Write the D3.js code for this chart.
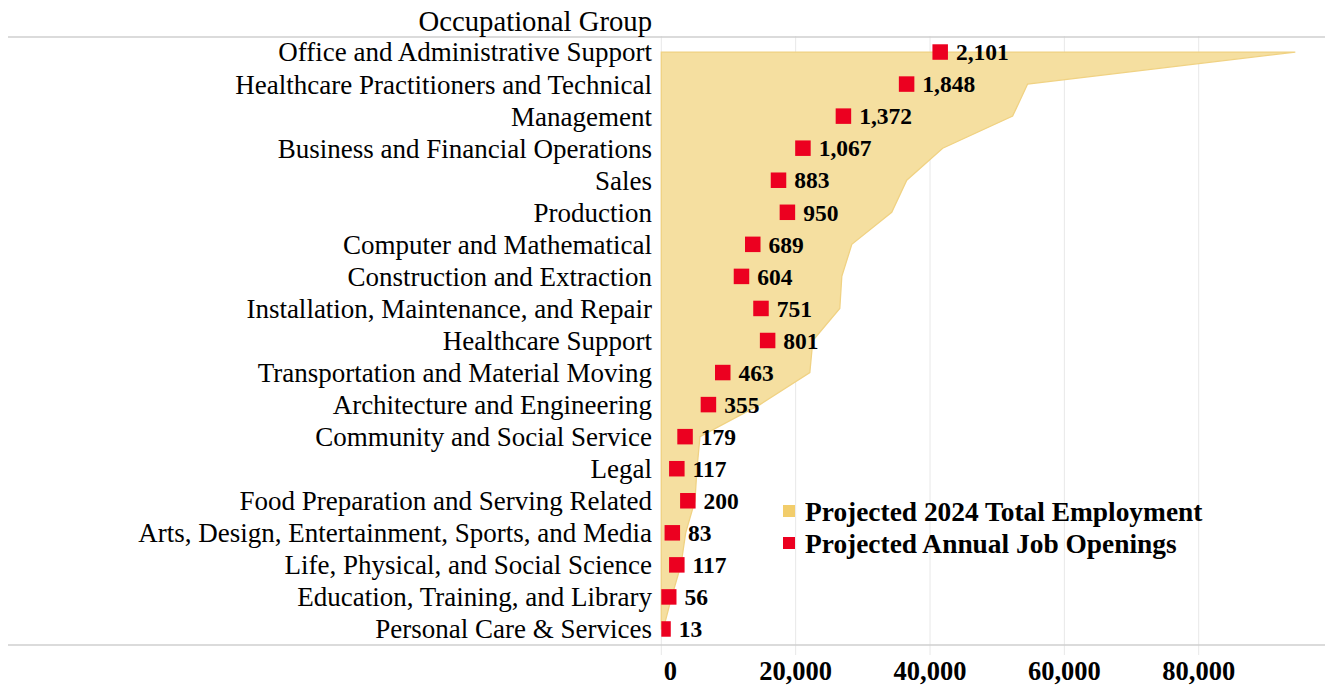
<!DOCTYPE html>
<html>
<head>
<meta charset="utf-8">
<script src="https://cdn.jsdelivr.net/npm/d3@7"></script>
<style>
  body { margin: 0; background: #fff; }
  text { font-family: "Liberation Serif", "Times New Roman", serif; }
</style>
</head>
<body>
<div id="chart"></div>
<script>
// Occupational groups, top to bottom
const GROUPS = [
  'Office and Administrative Support',
  'Healthcare Practitioners and Technical',
  'Management',
  'Business and Financial Operations',
  'Sales',
  'Production',
  'Computer and Mathematical',
  'Construction and Extraction',
  'Installation, Maintenance, and Repair',
  'Healthcare Support',
  'Transportation and Material Moving',
  'Architecture and Engineering',
  'Community and Social Service',
  'Legal',
  'Food Preparation and Serving Related',
  'Arts, Design, Entertainment, Sports, and Media',
  'Life, Physical, and Social Science',
  'Education, Training, and Library',
  'Personal Care & Services'
];

// Projected 2024 total employment
const EMPLOYMENT = [94380, 54530, 52300, 41890, 36540, 34300, 28360, 26870, 26570,
  22560, 22110, 14680, 5760, 5310, 5010, 3630, 2930, 1550, 300];

// Projected annual job openings
const OPENINGS = [2101, 1848, 1372, 1067, 883, 950, 689, 604, 751,
  801, 463, 355, 179, 117, 200, 83, 117, 56, 13];

const X_TICKS = [0, 20000, 40000, 60000, 80000];

const width = 1325;
const height = 686;
const margin = { top: 36, right: 0, bottom: 41, left: 661.3 };

const svg = d3.select('#chart').append('svg')
  .attr('width', width)
  .attr('height', height);

const data = GROUPS.map((g, i) => ({ group: g, employment: EMPLOYMENT[i], openings: OPENINGS[i] }));

// Scales
const x = d3.scaleLinear().domain([0, 98800]).range([margin.left, width]);
const x2 = d3.scaleLinear().domain([0, 5000]).range([margin.left, width]);
const y = d3.scaleBand().domain(GROUPS).range([margin.top, height - margin.bottom]);
const yc = d => y(d) + y.bandwidth() / 2;

svg.append('defs').append('clipPath').attr('id', 'plotClip')
  .append('rect')
  .attr('x', margin.left)
  .attr('y', margin.top)
  .attr('width', width - margin.left)
  .attr('height', height - margin.top - margin.bottom);

// Gridlines (extend a little below the axis line as ticks)
svg.append('g')
  .selectAll('line')
  .data(X_TICKS)
  .join('line')
  .attr('x1', d => x(d))
  .attr('x2', d => x(d))
  .attr('y1', margin.top)
  .attr('y2', height - margin.bottom + 10)
  .attr('stroke', '#e8e8e8')
  .attr('stroke-width', 1);

// Employment area
const area = d3.area()
  .y(d => yc(d.group))
  .x0(x(0))
  .x1(d => x(d.employment));

svg.append('path')
  .datum(data)
  .attr('d', area)
  .attr('fill', '#f5dfa0')
  .attr('stroke', '#f0d283')
  .attr('stroke-width', 1.3);

// Top and bottom rules
[margin.top + 1, height - margin.bottom].forEach(yy => {
  svg.append('line')
    .attr('x1', 8).attr('x2', width)
    .attr('y1', yy).attr('y2', yy)
    .attr('stroke', '#cfcfcf')
    .attr('stroke-width', 1.5);
});

// Job openings squares
const sq = 15.5;
svg.append('g')
  .attr('clip-path', 'url(#plotClip)')
  .selectAll('rect')
  .data(data)
  .join('rect')
  .attr('x', d => x2(d.openings) - sq / 2)
  .attr('y', d => yc(d.group) - sq / 2)
  .attr('width', sq)
  .attr('height', sq)
  .attr('fill', '#ec0020');

svg.append('g')
  .selectAll('text')
  .data(data)
  .join('text')
  .attr('x', d => x2(d.openings) + sq / 2 + 8)
  .attr('y', d => yc(d.group))
  .attr('dy', '0.35em')
  .attr('font-size', 23.5)
  .attr('font-weight', 700)
  .attr('fill', '#000')
  .text(d => d3.format(',')(d.openings));

// Category labels
svg.append('g')
  .selectAll('text')
  .data(GROUPS)
  .join('text')
  .attr('x', 652)
  .attr('y', d => yc(d))
  .attr('dy', '0.35em')
  .attr('text-anchor', 'end')
  .attr('font-size', 27)
  .attr('fill', '#000')
  .text(d => d);

svg.append('text')
  .attr('x', 652)
  .attr('y', 21)
  .attr('dy', '0.35em')
  .attr('text-anchor', 'end')
  .attr('font-size', 28.7)
  .text('Occupational Group');

// X axis tick labels
svg.append('g')
  .selectAll('text')
  .data(X_TICKS)
  .join('text')
  .attr('x', d => x(d) + (d === 0 ? 9 : 0))
  .attr('y', 671)
  .attr('dy', '0.35em')
  .attr('text-anchor', 'middle')
  .attr('font-size', 26.5)
  .attr('font-weight', 700)
  .text(d => d3.format(',')(d));

// Legend
const legend = svg.append('g').attr('transform', 'translate(783,511)');
const LEGEND = [
  { label: 'Projected 2024 Total Employment', color: '#f2cd6b' },
  { label: 'Projected Annual Job Openings', color: '#ec0020' }
];
LEGEND.forEach((l, i) => {
  legend.append('rect')
    .attr('x', 0)
    .attr('y', i * 32 - 6)
    .attr('width', 12)
    .attr('height', 12)
    .attr('fill', l.color);
  legend.append('text')
    .attr('x', 22)
    .attr('y', i * 32)
    .attr('dy', '0.35em')
    .attr('font-size', 27.4)
    .attr('font-weight', 700)
    .text(l.label);
});
</script>
</body>
</html>
